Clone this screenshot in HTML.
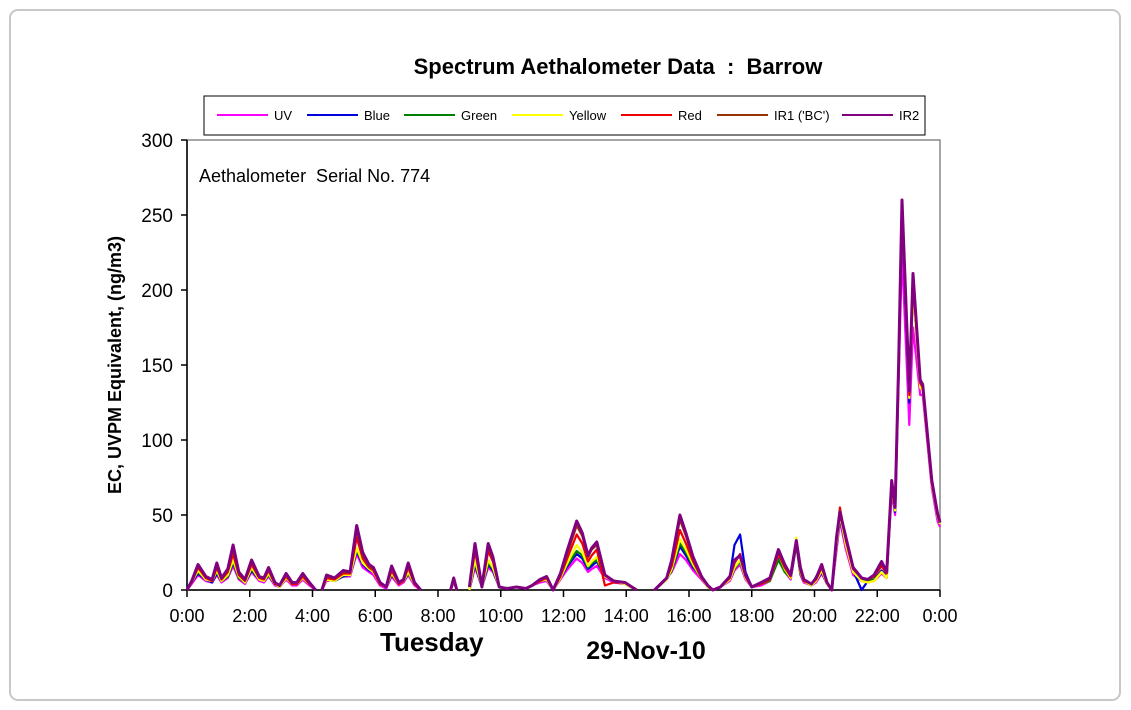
<!DOCTYPE html>
<html><head><meta charset="utf-8"><style>
body{margin:0;background:#fff;font-family:"Liberation Sans",Arial,sans-serif}
svg{display:block}
text{white-space:pre}
</style></head><body>
<svg id="c" width="1131" height="710" xmlns="http://www.w3.org/2000/svg" xml:space="preserve" font-family="Liberation Sans, Arial, sans-serif">
<rect x="0" y="0" width="1131" height="710" fill="#fff"/>
<rect x="10" y="10" width="1110" height="690" rx="8" fill="#fff" stroke="#c8c8c8" stroke-width="2"/>
<text x="618" y="74" text-anchor="middle" font-size="22" font-weight="bold">Spectrum Aethalometer Data  :  Barrow</text>
<g id="legend"><rect x="204" y="96" width="721" height="39" fill="#fff" stroke="#000" stroke-width="1"/></g>
<rect x="187" y="140" width="753" height="450" fill="#fff" stroke="#888" stroke-width="1.5"/>
<text x="199" y="182" font-size="18">Aethalometer  Serial No. 774</text>
<text transform="translate(121,365) rotate(-90)" text-anchor="middle" font-size="18" font-weight="bold">EC, UVPM Equivalent, (ng/m3)</text>
<text x="380" y="651" font-size="26" font-weight="bold">Tuesday</text>
<text x="646" y="659" text-anchor="middle" font-size="25" font-weight="bold">29-Nov-10</text>
<g id="axes"></g>
<g id="series"></g>
</svg>
<script>
const T=[0,0.15,0.35,0.6,0.8,0.95,1.1,1.3,1.47,1.65,1.85,2.06,2.3,2.45,2.6,2.8,2.95,3.16,3.35,3.5,3.69,3.9,4.1,4.2,4.3,4.45,4.7,4.98,5.2,5.41,5.6,5.8,5.94,6.15,6.35,6.52,6.75,6.9,7.05,7.25,7.45,7.9,8.4,8.5,8.6,8.8,9.0,9.18,9.4,9.6,9.75,9.95,10.2,10.5,10.8,11.0,11.25,11.46,11.67,11.9,12.1,12.42,12.6,12.78,12.9,13.06,13.32,13.6,13.96,14.33,14.6,14.9,15.29,15.45,15.71,15.9,16.13,16.4,16.6,16.76,17.0,17.3,17.45,17.63,17.8,18.0,18.3,18.58,18.85,19.05,19.24,19.42,19.55,19.66,19.9,20.05,20.23,20.4,20.55,20.7,20.81,21.0,21.23,21.5,21.7,21.9,22.14,22.3,22.46,22.57,22.68,22.79,23.02,23.14,23.37,23.45,23.74,23.92,24.0];
const UV=[0,4,10,6,5,10,5,8,16,7,4,12,6,5,9,3,2,7,3,3,7,3,0,null,0,6,7,9,9,24,15,12,10,3,1,9,3,5,10,3,0,null,0,5,0,null,0,15,2,15,12,2,1,2,1,3,5,6,0,7,13,21,18,12,14,16,8,5,4,0,null,0,8,12,24,20,13,7,2,0,2,6,13,17,7,2,3,6,22,12,7,30,10,5,3,5,11,4,0,26,46,27,10,6,5,6,11,8,65,50,140,225,110,175,130,130,68,46,42];
const BLUE=[0,5,11,7,5,11,6,9,18,8,5,13,7,6,10,4,2,8,4,4,8,4,0,null,0,7,6,9,10,26,17,13,12,4,2,10,4,6,11,5,0,null,0,8,0,null,0,17,2,17,13,2,1,2,1,3,6,7,0,8,15,24,21,14,16,19,9,6,5,0,null,0,7,13,29,23,15,9,2,0,2,9,30,37,12,2,4,7,22,13,8,31,11,6,3,6,12,4,0,29,48,30,13,0,6,7,13,9,68,52,145,250,125,205,136,134,71,49,44];
const GREEN=[0,6,12,7,6,12,6,9,19,8,5,14,7,6,10,4,2,8,4,4,8,4,0,null,0,7,6,10,10,27,18,14,12,4,2,11,4,6,11,4,0,null,0,6,0,null,0,18,2,18,14,2,1,2,1,3,6,7,0,8,16,26,23,15,18,20,9,6,4,0,null,0,7,13,31,25,16,8,2,0,2,7,14,19,8,2,4,6,20,12,8,30,11,6,3,9,13,4,0,30,50,30,12,7,6,7,12,8,68,53,145,255,128,202,136,134,71,49,44];
const YELLOW=[0,5,13,7,6,13,6,10,20,9,5,15,7,6,11,4,2,8,4,4,8,4,0,null,0,7,6,10,10,28,18,14,12,4,2,11,4,6,12,4,0,null,0,6,0,null,0,20,2,20,15,2,1,2,1,3,6,7,0,8,17,30,25,16,19,22,9,6,4,0,null,0,7,14,34,27,17,8,2,0,2,7,15,20,8,2,4,7,24,14,8,35,12,6,3,6,13,4,0,30,50,30,12,6,5,6,12,8,68,53,145,255,128,200,135,133,70,49,44];
const RED=[0,5,15,8,6,15,7,12,24,10,6,17,8,7,13,4,3,9,4,4,9,4,0,null,0,8,7,11,11,35,21,15,13,4,2,13,4,6,15,4,0,null,0,7,0,null,2,26,2,26,19,2,1,2,1,3,6,8,0,9,20,37,31,19,23,27,3,5,5,0,null,0,8,16,40,31,19,8,3,0,2,8,18,24,9,2,4,7,24,15,9,32,13,6,4,7,15,5,0,33,55,33,14,8,7,9,16,11,70,55,150,258,130,208,138,135,72,52,46];
const IR1=[0,6,16,9,7,17,8,13,28,11,7,19,9,8,14,5,3,10,5,5,10,5,0,null,0,9,8,12,12,40,23,16,14,5,2,15,5,7,17,5,0,null,0,8,0,null,2,29,2,29,21,2,1,2,1,3,7,9,0,10,23,43,36,22,27,30,10,6,5,0,null,0,8,19,47,36,21,9,3,0,2,9,19,23,10,2,5,8,26,16,10,33,14,7,4,8,16,5,0,34,53,34,15,8,7,10,18,12,72,55,150,259,132,210,139,136,72,51,45];
const IR2=[0,6,17,9,7,18,8,14,30,12,7,20,9,8,15,5,3,11,5,5,11,5,0,null,0,10,8,13,12,43,25,17,15,5,2,16,5,7,18,5,0,null,0,8,0,null,2,31,2,31,22,2,1,2,1,3,7,9,0,11,25,46,38,23,28,32,10,6,5,0,null,0,8,20,50,38,22,9,3,0,2,9,20,23,10,2,5,8,27,17,10,33,15,7,4,8,17,5,0,35,52,35,15,8,7,10,19,12,73,55,150,260,133,211,140,137,73,51,45];
const SERIES_NAMES=["UV","Blue","Green","Yellow","Red","IR1 ('BC')","IR2"];
const SERIES_COLORS=["#ff00ff","#0000dd","#008000","#ffff00","#ee0000","#993300","#800080"];
const Y_TICKS=[0,50,100,150,200,250,300];
const X_TICKS=[0,2,4,6,8,10,12,14,16,18,20,22,24];
const X_LABELS=["0:00","2:00","4:00","6:00","8:00","10:00","12:00","14:00","16:00","18:00","20:00","22:00","0:00"];

const NS="http://www.w3.org/2000/svg";
const X0=187,X1=940,Y0=590,Y1=140;
const xs=t=>X0+(t/24)*(X1-X0);
const ys=v=>Y0-(v/300)*(Y0-Y1);
function mk(tag,attrs,parent){const e=document.createElementNS(NS,tag);for(const k in attrs)e.setAttribute(k,attrs[k]);parent.appendChild(e);return e;}
const axes=document.getElementById('axes');
let a=mk('line',{x1:X0,y1:Y0,x2:X0,y2:Y1,stroke:'#000','stroke-width':1.5},axes);


a=mk('line',{x1:X0,y1:Y0,x2:X1,y2:Y0,stroke:'#000','stroke-width':1.5},axes);


Y_TICKS.forEach(v=>{
  const l=mk('line',{x1:X0-6,x2:X0,y1:ys(v),y2:ys(v),stroke:'#000','stroke-width':1.5},axes);
  
  
  const t=mk('text',{x:X0-14,y:ys(v)+7,'text-anchor':'end','font-size':19},axes);
  t.textContent=v;
  
  
});
X_TICKS.forEach((h,i)=>{
  const l=mk('line',{x1:xs(h),x2:xs(h),y1:Y0,y2:Y0+7,stroke:'#000','stroke-width':1.5},axes);
  
  
  const t=mk('text',{x:xs(h),y:Y0+32,'text-anchor':'middle','font-size':18},axes);
  t.textContent=X_LABELS[i];
  
  
});
const sg=document.getElementById('series');
const DATA=[UV,BLUE,GREEN,YELLOW,RED,IR1,IR2];
DATA.forEach((arr,si)=>{
  let d='',pen=false;
  arr.forEach((v,i)=>{
    if(v===null){pen=false;return;}
    d+=(pen?'L':'M')+xs(T[i]).toFixed(1)+' '+ys(v).toFixed(1)+' ';pen=true;
  });
  const p=mk('path',{d:d,fill:'none',stroke:SERIES_COLORS[si],'stroke-width':si===6?3:2.2,'stroke-linejoin':'round'},sg);
  
  
});
const lg=document.getElementById('legend');
const LX=[217,307,404,512,621,717,842];
SERIES_NAMES.forEach((n,i)=>{
  const l=mk('line',{x1:LX[i],x2:LX[i]+51,y1:115,y2:115,stroke:SERIES_COLORS[i],'stroke-width':2},lg);
  
  
  const t=mk('text',{x:LX[i]+57,y:120,'font-size':13},lg);
  t.textContent=n;
  
  
});
</script>
</body></html>
